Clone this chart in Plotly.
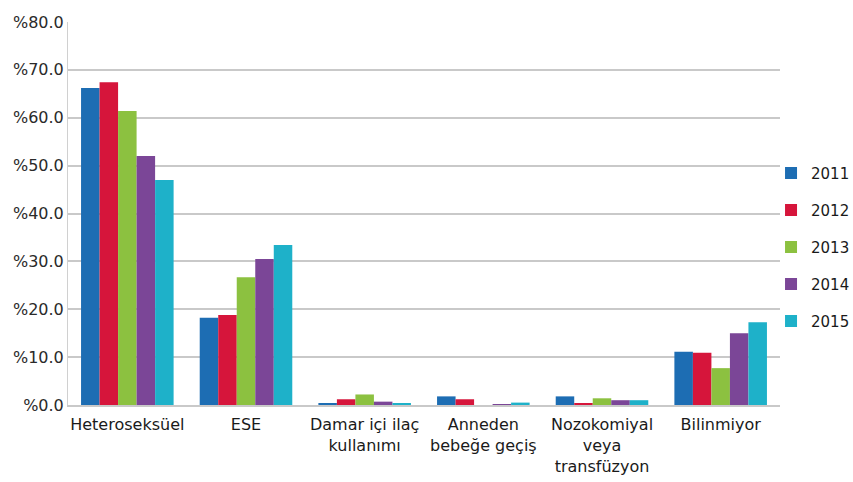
import plotly.graph_objects as go

categories = ["Heteroseksüel", "ESE", "Damar içi ilaç<br>kullanımı", "Anneden<br>bebeğe geçiş",
              "Nozokomiyal<br>veya<br>transfüzyon", "Bilinmiyor"]
years = ["2011", "2012", "2013", "2014", "2015"]
v2011 = [66.2, 18.2, 0.3, 1.8, 1.8, 11.1]
v2012 = [67.4, 18.8, 1.2, 1.2, 0.3, 10.9]
v2013 = [61.4, 26.7, 2.2, 0.0, 1.4, 7.7]
v2014 = [52.0, 30.5, 0.7, 0.1, 1.0, 15.0]
v2015 = [47.0, 33.4, 0.4, 0.5, 1.0, 17.3]
series = [v2011, v2012, v2013, v2014, v2015]
colors = ["#1d6db3", "#d6153b", "#8cc140", "#7b4697", "#1eb1c9"]
tick_vals = [0, 10, 20, 30, 40, 50, 60, 70, 80]
tick_text = ["%0.0", "%10.0", "%20.0", "%30.0", "%40.0", "%50.0", "%60.0", "%70.0", "%80.0"]

fig = go.Figure()
for y, vals, c in zip(years, series, colors):
    fig.add_trace(go.Bar(x=categories, y=vals, name=y, marker_color=c,
                         marker_line_width=0, legendgroup=y))

fig.update_layout(
    width=853, height=482,
    margin=dict(l=68, r=73, t=22, b=77, autoexpand=False),
    paper_bgcolor="white", plot_bgcolor="white",
    barmode="group", bargap=0.22, bargroupgap=0,
    font=dict(family="DejaVu Sans, sans-serif", color="#1a1a1a"),
    legend=dict(x=0.9874, y=0.6484, xanchor="left", yanchor="top",
                font=dict(size=15, color="#1a1a1a"), tracegroupgap=14.5,
                itemwidth=30, bgcolor="rgba(0,0,0,0)", borderwidth=0),
    yaxis=dict(range=[0, 80], tickvals=tick_vals, ticktext=tick_text,
               gridcolor="#c9c9c9", gridwidth=1.5, zeroline=False,
               tickfont=dict(size=16, color="#2a2a2a"), ticks="",
               showline=True, linecolor="#d0d0d0", linewidth=1, automargin=False),
    xaxis=dict(tickfont=dict(size=16, color="#1a1a1a"), showline=True,
               linecolor="#c9c9c9", linewidth=1.5, ticks="", automargin=False,
               ticklabelstandoff=4),
)

fig.write_html("out.html")
